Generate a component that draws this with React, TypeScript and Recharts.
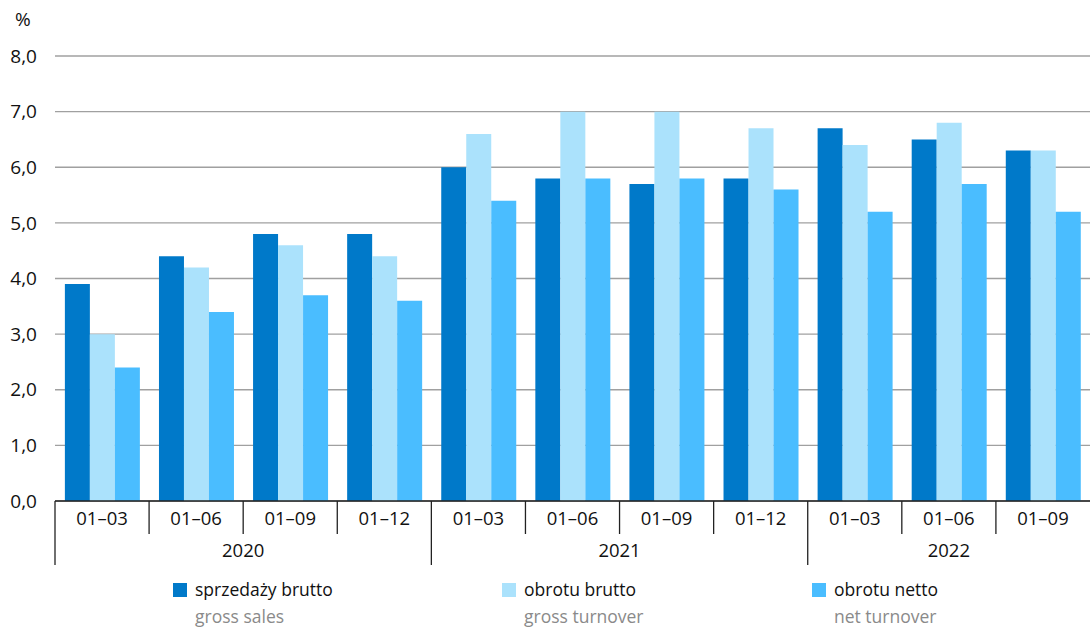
import React from "react";
import { BarChart, Bar, XAxis, YAxis, CartesianGrid, Legend } from "recharts";

const periods = ["01–03", "01–06", "01–09", "01–12", "01–03", "01–06", "01–09", "01–12", "01–03", "01–06", "01–09"];
const years = ["2020", "2020", "2020", "2020", "2021", "2021", "2021", "2021", "2022", "2022", "2022"];
const grossSales = [3.9, 4.4, 4.8, 4.8, 6.0, 5.8, 5.7, 5.8, 6.7, 6.5, 6.3];
const grossTurnover = [3.0, 4.2, 4.6, 4.4, 6.6, 7.0, 7.0, 6.7, 6.4, 6.8, 6.3];
const netTurnover = [2.4, 3.4, 3.7, 3.6, 5.4, 5.8, 5.8, 5.6, 5.2, 5.7, 5.2];
const yTicks = [0, 1, 2, 3, 4, 5, 6, 7, 8];

const seriesNames = [
  { key: "grossSales", pl: "sprzedaży brutto", en: "gross sales", color: "#0079c9" },
  { key: "grossTurnover", pl: "obrotu brutto", en: "gross turnover", color: "#abe2fc" },
  { key: "netTurnover", pl: "obrotu netto", en: "net turnover", color: "#4abdff" },
];

const data = periods.map((p, i) => ({
  period: p,
  year: years[i],
  grossSales: grossSales[i],
  grossTurnover: grossTurnover[i],
  netTurnover: netTurnover[i],
}));

const W = 1090;
const H = 628;
const LEFT = 55;
const BAND = (W - LEFT) / periods.length;
const FONT = "'Open Sans', 'Noto Sans', sans-serif";
const TEXT = "#111";

function PeriodTick(props: any) {
  const { x, y, index, payload } = props;
  const left = x - BAND / 2;
  const yearStart = index === 0 || years[index] !== years[index - 1];
  let span = 0;
  if (yearStart) {
    while (index + span < years.length && years[index + span] === years[index]) span++;
  }
  return (
    <g>
      <line x1={left} x2={left} y1={y} y2={y + (yearStart ? 64 : 33)} stroke="#222" strokeWidth={1.3} />
      <text x={x} y={y + 24} textAnchor="middle" fontSize={18.5} fill={TEXT} fontFamily={FONT}>
        {payload.value}
      </text>
      {yearStart && (
        <text x={left + (span * BAND) / 2} y={y + 56} textAnchor="middle" fontSize={18.5} fill={TEXT} fontFamily={FONT}>
          {years[index]}
        </text>
      )}
    </g>
  );
}

const legendX = [173, 502, 812];

function LegendContent() {
  return (
    <svg width={W} height={57} style={{ position: "absolute", left: 0, top: 0 }}>
      {seriesNames.map((s, i) => (
        <g key={s.key}>
          <rect x={legendX[i]} y={12} width={14} height={14} fill={s.color} />
          <text x={legendX[i] + 22} y={25} fontSize={17.5} fill={TEXT} fontFamily={FONT}>
            {s.pl}
          </text>
          <text x={legendX[i] + 22} y={52} fontSize={17.5} fill="#8a8a8a" fontFamily={FONT}>
            {s.en}
          </text>
        </g>
      ))}
    </svg>
  );
}

export default function App() {
  return (
    <div style={{ position: "absolute", left: 0, top: 0, width: W, height: H, background: "#fff", overflow: "hidden" }}>
      <div style={{ position: "absolute", left: 15, top: 6, fontSize: 19, fontFamily: FONT, color: TEXT }}>%</div>
      <BarChart
        width={W}
        height={H}
        data={data}
        margin={{ top: 56, right: 0, left: 0, bottom: 0 }}
        barCategoryGap="10.5%"
        barGap={0}
      >
        <CartesianGrid vertical={false} stroke="#a0a0a0" strokeWidth={1.3} />
        <XAxis
          dataKey="period"
          height={70}
          tickLine={false}
          tickSize={0}
          tickMargin={0}
          interval={0}
          axisLine={{ stroke: "#222", strokeWidth: 1.3 }}
          tick={<PeriodTick />}
        />
        <YAxis
          width={LEFT}
          domain={[0, 8]}
          ticks={yTicks}
          interval={0}
          axisLine={false}
          tickLine={false}
          tickSize={0}
          tickMargin={18}
          tickFormatter={(v: number) => v.toFixed(1).replace(".", ",")}
          tick={{ fontSize: 19, fill: TEXT, fontFamily: FONT }}
        />
        <Legend verticalAlign="bottom" height={57} content={<LegendContent />} />
        {seriesNames.map((s) => (
          <Bar key={s.key} dataKey={s.key} name={s.pl} fill={s.color} isAnimationActive={false} />
        ))}
      </BarChart>
    </div>
  );
}
